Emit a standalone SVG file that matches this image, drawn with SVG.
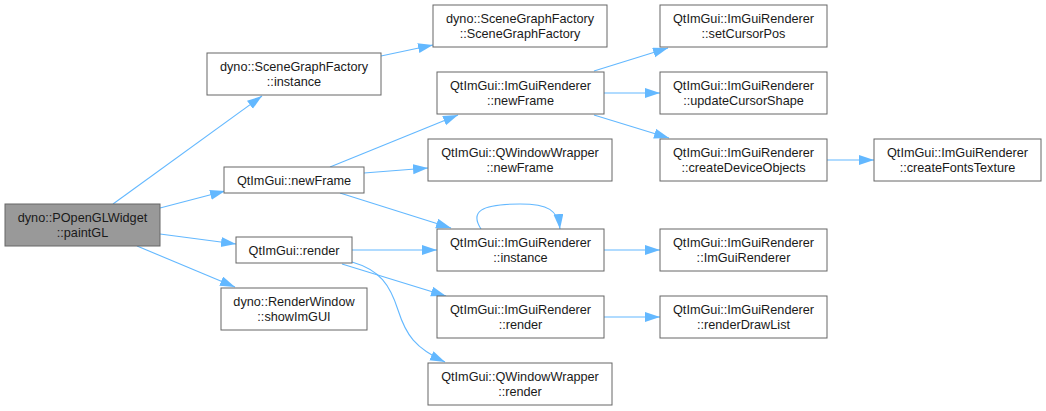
<svg xmlns="http://www.w3.org/2000/svg" width="1046" height="411" viewBox="0 0 1046 411">
<defs>
<style>
.box{fill:#ffffff;stroke:#666666;stroke-width:1}
.root{fill:#999999;stroke:#666666;stroke-width:1}
text{font-family:"Liberation Sans",Arial,sans-serif;font-size:12.7px;fill:#1a1a1a;text-anchor:middle}
.e{fill:none;stroke:#63b8ff;stroke-width:1.1;marker-end:url(#ah)}
</style>
<marker id="ah" markerUnits="userSpaceOnUse" markerWidth="16" markerHeight="12" refX="15" refY="5" orient="auto" viewBox="0 0 16 12">
<path d="M0,0 L15,5 L0,10 z" fill="#63b8ff"/>
</marker>
</defs>
<rect width="1046" height="411" fill="#ffffff"/>
<g id="connectors">
<path class="e" d="M113,204 L262,96"/>
<path class="e" d="M160,208 L225,191"/>
<path class="e" d="M160,234 L236,244"/>
<path class="e" d="M137,246 L235,287"/>
<path class="e" d="M381,56 L433,45"/>
<path class="e" d="M330,167 L458,115"/>
<path class="e" d="M364,173 L428,168"/>
<path class="e" d="M340,193 L451,228"/>
<path class="e" d="M352,250 L437,250"/>
<path class="e" d="M342,264 L446,296"/>
<path class="e" d="M352,262 C380,270 390,285 398,310 C406,335 415,348 445,362"/>
<path class="e" d="M481,229 C470,212 480,204 520,204 C548,204 558,210 560,229"/>
<path class="e" d="M604,250 L660,250"/>
<path class="e" d="M604,317 L660,317"/>
<path class="e" d="M594,71 L668,48"/>
<path class="e" d="M604,93 L660,93"/>
<path class="e" d="M594,115 L669,138"/>
<path class="e" d="M827,160 L874,160"/>
</g>
<g id="n_paintGL"><rect class="root" x="5" y="204" width="155" height="42"/><text x="82.5" y="221.5">dyno::POpenGLWidget</text><text x="82.5" y="237">::paintGL</text></g>
<g id="n_sgf_instance"><rect class="box" x="207" y="53" width="174" height="42"/><text x="294" y="70.5">dyno::SceneGraphFactory</text><text x="294" y="86">::instance</text></g>
<g id="n_sgf_ctor"><rect class="box" x="433" y="5" width="174" height="42"/><text x="520" y="22.5">dyno::SceneGraphFactory</text><text x="520" y="38">::SceneGraphFactory</text></g>
<g id="n_qt_newFrame"><rect class="box" x="224" y="167" width="140" height="26"/><text x="294" y="184.5">QtImGui::newFrame</text></g>
<g id="n_qt_render"><rect class="box" x="236" y="237" width="116" height="26"/><text x="294" y="254.5">QtImGui::render</text></g>
<g id="n_showImGUI"><rect class="box" x="221" y="288" width="146" height="42"/><text x="294" y="305.5">dyno::RenderWindow</text><text x="294" y="321">::showImGUI</text></g>
<g id="n_igr_newFrame"><rect class="box" x="437" y="72" width="167" height="42"/><text x="520.5" y="89.5">QtImGui::ImGuiRenderer</text><text x="520.5" y="105">::newFrame</text></g>
<g id="n_qww_newFrame"><rect class="box" x="428" y="139" width="184" height="42"/><text x="520" y="156.5">QtImGui::QWindowWrapper</text><text x="520" y="172">::newFrame</text></g>
<g id="n_igr_instance"><rect class="box" x="437" y="229" width="167" height="42"/><text x="520.5" y="246.5">QtImGui::ImGuiRenderer</text><text x="520.5" y="262">::instance</text></g>
<g id="n_igr_render"><rect class="box" x="437" y="296" width="167" height="42"/><text x="520.5" y="313.5">QtImGui::ImGuiRenderer</text><text x="520.5" y="329">::render</text></g>
<g id="n_qww_render"><rect class="box" x="428" y="363" width="184" height="42"/><text x="520" y="380.5">QtImGui::QWindowWrapper</text><text x="520" y="396">::render</text></g>
<g id="n_setCursorPos"><rect class="box" x="660" y="5" width="167" height="42"/><text x="743.5" y="22.5">QtImGui::ImGuiRenderer</text><text x="743.5" y="38">::setCursorPos</text></g>
<g id="n_updateCursorShape"><rect class="box" x="660" y="72" width="167" height="42"/><text x="743.5" y="89.5">QtImGui::ImGuiRenderer</text><text x="743.5" y="105">::updateCursorShape</text></g>
<g id="n_createDeviceObjects"><rect class="box" x="660" y="139" width="167" height="42"/><text x="743.5" y="156.5">QtImGui::ImGuiRenderer</text><text x="743.5" y="172">::createDeviceObjects</text></g>
<g id="n_createFontsTexture"><rect class="box" x="874" y="139" width="167" height="42"/><text x="957.5" y="156.5">QtImGui::ImGuiRenderer</text><text x="957.5" y="172">::createFontsTexture</text></g>
<g id="n_igr_ctor"><rect class="box" x="660" y="229" width="167" height="42"/><text x="743.5" y="246.5">QtImGui::ImGuiRenderer</text><text x="743.5" y="262">::ImGuiRenderer</text></g>
<g id="n_renderDrawList"><rect class="box" x="660" y="296" width="167" height="42"/><text x="743.5" y="313.5">QtImGui::ImGuiRenderer</text><text x="743.5" y="329">::renderDrawList</text></g>
</svg>
